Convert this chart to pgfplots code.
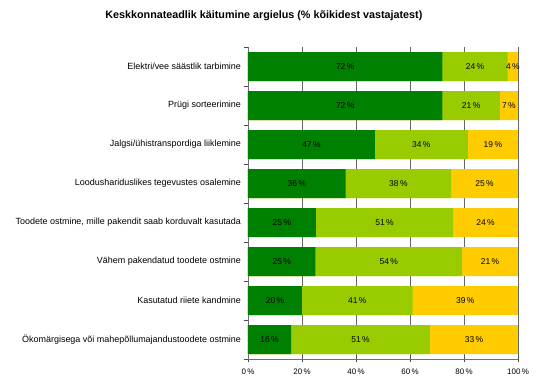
\documentclass[border=0pt]{standalone}
\usepackage{pgfplots}
\pgfplotsset{compat=1.18}
\usepackage{pgfplotstable}
\usepackage{fontspec}
\setmainfont{Liberation Sans}
\definecolor{cD}{RGB}{0,128,0}
\definecolor{cL}{RGB}{153,204,0}
\definecolor{cY}{RGB}{255,204,0}
\definecolor{axc}{RGB}{110,110,120}
\pgfplotstableread{
row a b c la lb lc
7 72 24.2 3.8 72 24 4
6 72 21.3 6.7 72 21 7
5 47 34.4 18.6 47 34 19
4 36.2 39 24.8 36 38 25
3 25.1 50.9 24 25 51 24
2 25 54.3 20.7 25 54 21
1 20 41 39 20 41 39
0 16 51.4 32.6 16 51 33
}\data
\begin{document}
\begin{tikzpicture}
\useasboundingbox (-248bp,-28bp) rectangle (292bp,359bp);
\begin{axis}[
  at={(0,0)}, anchor=south west,
  scale only axis, width=270bp, height=312bp,
  xmin=0, xmax=100, ymin=-0.5, ymax=7.5,
  axis x line*=bottom, axis y line*=left,
  axis line style={axc, line width=0.7bp},
  xtick={0,20,...,100},
  xticklabels={0\,\%,20\,\%,40\,\%,60\,\%,80\,\%,100\,\%},
  xmajorgrids, grid style={gray!80!black, line width=0.5bp},
  ytick={0,...,7},
  yticklabels={{Ökomärgisega või mahepõllumajandustoodete ostmine},{Kasutatud riiete kandmine},{Vähem pakendatud toodete ostmine},{Toodete ostmine, mille pakendit saab korduvalt kasutada},{Loodushariduslikes tegevustes osalemine},{Jalgsi/ühistranspordiga liiklemine},{Prügi sorteerimine},{Elektri/vee säästlik tarbimine}},
  minor ytick={-0.5,0.5,...,7.5},
  every major y tick/.style={draw=none},
  xtick align=center, ytick align=outside,
  major tick length=6bp, minor tick length=4bp,
  tick style={axc!70!black, line width=0.7bp},
  yticklabel style={font=\fontsize{9}{11}\selectfont, xshift=2.5bp},
  xticklabel style={font=\fontsize{8}{10}\selectfont, yshift=-3.5bp},
  /pgf/number format/assume math mode=true,
  title={Keskkonnateadlik käitumine argielus (\% kõikidest vastajatest)},
  title style={at={(rel axis cs:0.059,1)}, anchor=center, yshift=25bp, font=\bfseries\fontsize{10.8}{13}\selectfont},
  clip=false,
]
\addplot[xbar, bar width=29bp, bar shift=0pt, fill=cY, draw=none] table[x expr=\thisrow{a}+\thisrow{b}+\thisrow{c}, y=row]{\data};
\addplot[xbar, bar width=29bp, bar shift=0pt, fill=cL, draw=none] table[x expr=\thisrow{a}+\thisrow{b}, y=row]{\data};
\addplot[xbar, bar width=29bp, bar shift=0pt, fill=cD, draw=none] table[x=a, y=row]{\data};
\pgfplotsset{every node near coord/.append style={anchor=center, font=\fontsize{8.5}{10}\selectfont, inner sep=0pt}}
\addplot[draw=none, nodes near coords={\pgfplotspointmeta\,\%}, point meta=explicit symbolic] table[x expr=\thisrow{a}/2, y=row, meta=la]{\data};
\addplot[draw=none, nodes near coords={\pgfplotspointmeta\,\%}, point meta=explicit symbolic] table[x expr=\thisrow{a}+\thisrow{b}/2, y=row, meta=lb]{\data};
\addplot[draw=none, nodes near coords={\pgfplotspointmeta\,\%}, point meta=explicit symbolic] table[x expr=\thisrow{a}+\thisrow{b}+\thisrow{c}/2, y=row, meta=lc]{\data};
\end{axis}
\end{tikzpicture}
\end{document}
